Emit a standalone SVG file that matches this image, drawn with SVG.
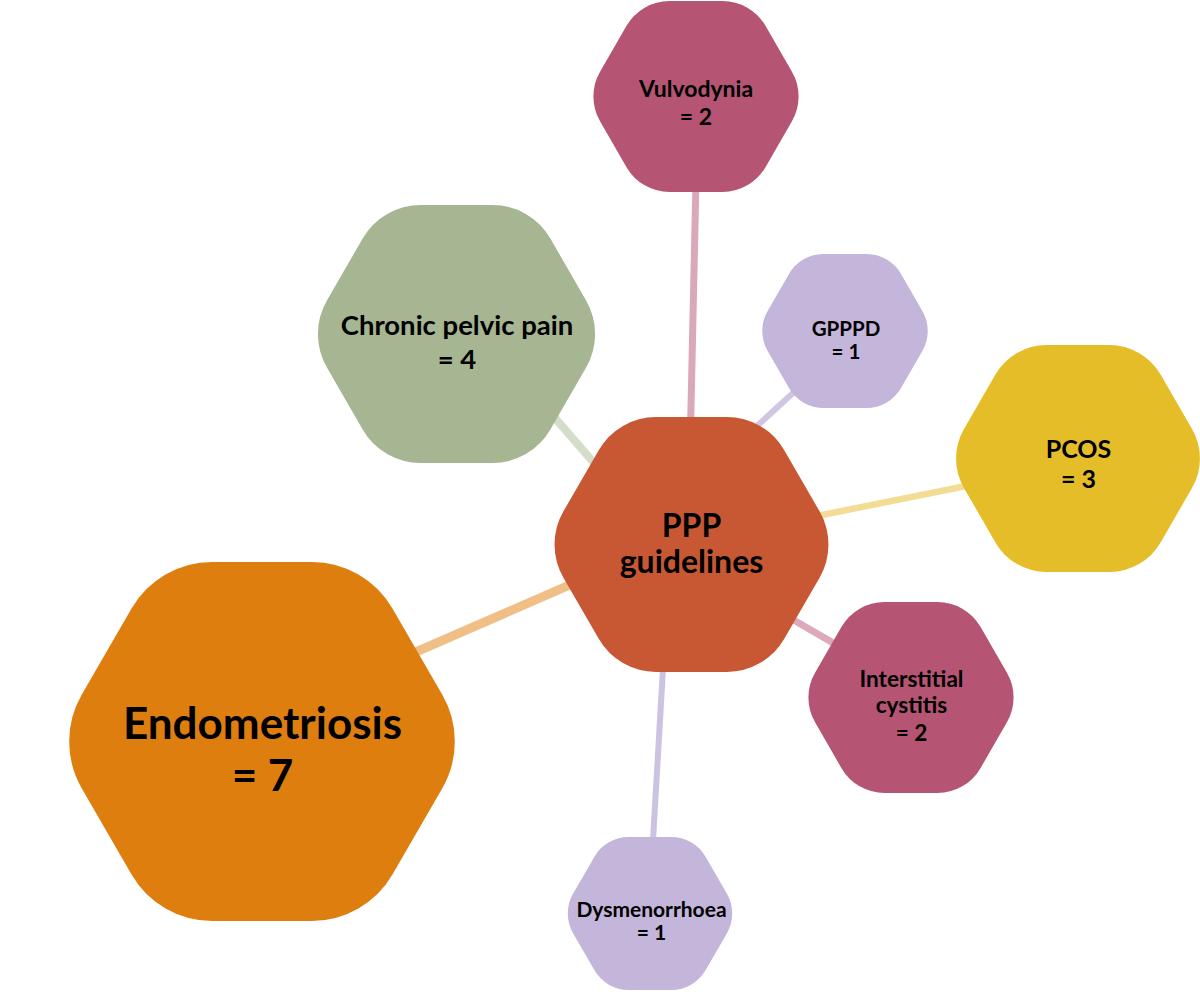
<svg xmlns="http://www.w3.org/2000/svg" xmlns:xlink="http://www.w3.org/1999/xlink" width="1200" height="992" viewBox="0 0 1200 992">
<defs>
<style>
.lbl{font-family:Lato,"Liberation Sans",sans-serif;font-weight:700;fill:#000;text-anchor:middle}
.edge{fill:none;stroke-linecap:butt}
</style>
<polygon id="hex" points="-27.71,0 -13.86,-24 13.86,-24 27.71,0 13.86,24 -13.86,24" stroke-width="52" stroke-linejoin="round"/>
</defs>
<rect width="1200" height="992" fill="#fff"/>
<g id="connectors">
<line class="edge" x1="392.8" y1="662" x2="591" y2="575.7" stroke="#EFBF85" stroke-width="9"/>
<line class="edge" x1="663.9" y1="653" x2="652.1" y2="856" stroke="#CCC3E2" stroke-width="6"/>
<line class="edge" x1="807.8" y1="379.5" x2="743.2" y2="438.5" stroke="#D0C6E3" stroke-width="6"/>
<line class="edge" x1="802" y1="519" x2="982.3" y2="482.8" stroke="#F3DD95" stroke-width="6.5"/>
<line class="edge" x1="543.6" y1="404.9" x2="606.1" y2="476.8" stroke="#D3DDCA" stroke-width="8"/>
<line class="edge" x1="696" y1="180" x2="690.5" y2="430" stroke="#D9A9BA" stroke-width="7"/>
<line class="edge" x1="779.7" y1="612" x2="852.3" y2="654" stroke="#DBAABB" stroke-width="7"/>
</g>
<g id="node-vulvodynia">
<use xlink:href="#hex" href="#hex" transform="translate(696,96.5) scale(1.91)" fill="#B55473" stroke="#B55473"/>
<text class="lbl" x="696" y="97" font-size="23">Vulvodynia</text>
<text class="lbl" x="696" y="125" font-size="23">= 2</text>
</g>
<g id="node-gpppd">
<use xlink:href="#hex" href="#hex" transform="translate(845,331) scale(1.54)" fill="#C4B5DA" stroke="#C4B5DA"/>
<text class="lbl" x="846" y="335.7" font-size="20.5">GPPPD</text>
<text class="lbl" x="846" y="359.3" font-size="20.5">= 1</text>
</g>
<g id="node-chronic">
<use xlink:href="#hex" href="#hex" transform="translate(456.5,334) scale(2.58)" fill="#A6B592" stroke="#A6B592"/>
<text class="lbl" x="457" y="334.5" font-size="27.5">Chronic pelvic pain</text>
<text class="lbl" x="457" y="368.5" font-size="27.5">= 4</text>
</g>
<g id="node-pcos">
<use xlink:href="#hex" href="#hex" transform="translate(1078,458.5) scale(2.27)" fill="#E5BD29" stroke="#E5BD29"/>
<text class="lbl" x="1078.5" y="457.7" font-size="25">PCOS</text>
<text class="lbl" x="1078.5" y="487.7" font-size="25">= 3</text>
</g>
<g id="node-center">
<use xlink:href="#hex" href="#hex" transform="translate(691.5,544.5) scale(2.55)" fill="#C85833" stroke="#C85833"/>
<text class="lbl" x="691.5" y="537" font-size="32">PPP</text>
<text class="lbl" x="691.5" y="573" font-size="32">guidelines</text>
</g>
<g id="node-interstitial">
<use xlink:href="#hex" href="#hex" transform="translate(911,697.5) scale(1.91)" fill="#B55473" stroke="#B55473"/>
<text class="lbl" x="911.5" y="686.7" font-size="22.6">Interstitial</text>
<text class="lbl" x="911.5" y="713.3" font-size="22.6">cystitis</text>
<text class="lbl" x="911.5" y="740.7" font-size="22.6">= 2</text>
</g>
<g id="node-endometriosis">
<use xlink:href="#hex" href="#hex" transform="translate(262,741.5) scale(3.59)" fill="#DE7E0F" stroke="#DE7E0F"/>
<text class="lbl" x="262.5" y="739" font-size="44">Endometriosis</text>
<text class="lbl" x="262.5" y="790.7" font-size="44">= 7</text>
</g>
<g id="node-dysmenorrhoea">
<use xlink:href="#hex" href="#hex" transform="translate(650,913.5) scale(1.53)" fill="#C4B5DA" stroke="#C4B5DA"/>
<text class="lbl" x="651.5" y="916.7" font-size="21">Dysmenorrhoea</text>
<text class="lbl" x="651.5" y="939.5" font-size="21">= 1</text>
</g>
</svg>
